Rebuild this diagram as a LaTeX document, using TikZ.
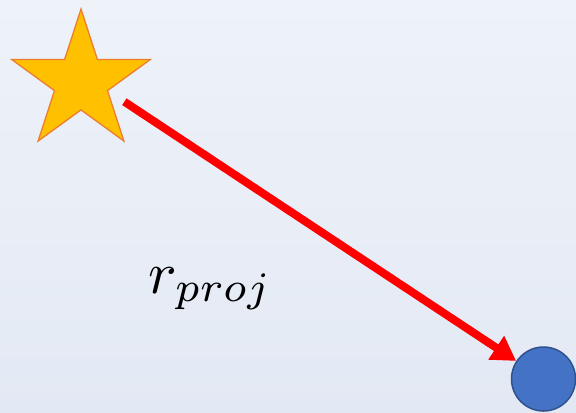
\documentclass[tikz,border=0pt]{standalone}
\usetikzlibrary{shapes.geometric,arrows.meta}
\definecolor{bgtop}{HTML}{EEF2F9}
\definecolor{bgbot}{HTML}{E3E9F4}
\definecolor{starfill}{HTML}{FFC000}
\definecolor{starline}{HTML}{ED7D31}
\definecolor{circfill}{HTML}{4472C4}
\definecolor{circline}{HTML}{2F528F}
\tikzset{
  starbox/.style={star, star points=5, star point ratio=2.618, minimum size=146bp, inner sep=0pt,
    fill=starfill, draw=starline, line width=1.3bp},
  ballbox/.style={circle, minimum size=64bp, inner sep=0pt, fill=circfill, draw=circline, line width=1.5bp},
  redarrow/.style={draw=red, line width=8bp, -{Triangle[length=24bp,width=27bp]}},
  lbl/.style={inner sep=0pt, scale=6}
}
\begin{document}
\begin{tikzpicture}[x=1bp,y=-1bp]
\shade[top color=bgtop, bottom color=bgbot] (0,0) rectangle (576,412);
\useasboundingbox (0,0) rectangle (576,412);
\node[starbox] (st) at (81,82) {};
\node[ballbox] (ball) at (543.5,379) {};
\node[lbl, anchor=base west] (lab) at (147,293) {$r_{proj}$};
\coordinate (src) at (81,73);
\draw[redarrow, shorten <=52bp] (src) -- (ball);
\end{tikzpicture}
\end{document}
